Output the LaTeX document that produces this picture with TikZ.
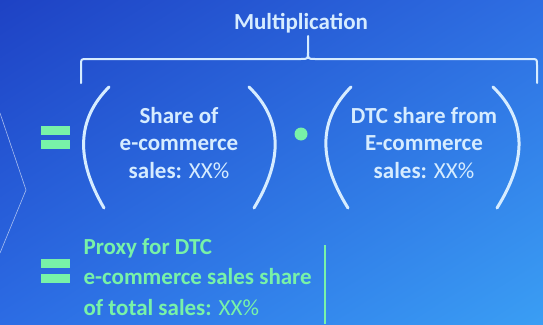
\documentclass[tikz,border=0pt]{standalone}
\usepackage{fontspec}
\setmainfont{Carlito}
\usepackage{xcolor}
\usetikzlibrary{shadings}

\definecolor{bgTL}{RGB}{30,66,196}
\definecolor{bgTR}{RGB}{46,110,226}
\definecolor{bgBL}{RGB}{44,108,228}
\definecolor{bgBR}{RGB}{58,158,244}
\definecolor{mint}{RGB}{120,242,168}
\definecolor{paleblue}{RGB}{214,236,255}

\tikzset{
  paren/.style={draw=paleblue,line width=3pt,line cap=round},
  bracepath/.style={draw=paleblue,line width=2pt,line cap=round,line join=round},
  factor/.style={text=paleblue,align=center,font=\fontsize{23}{27.5}\selectfont\bfseries},
  bar/.style={fill=mint},
}

\begin{document}
\begin{tikzpicture}[x=1pt,y=-1pt]
    \pgfmathsetmacro{\braceLeft}{81}
    \pgfmathsetmacro{\braceRight}{537}
    \pgfmathsetmacro{\braceTip}{308}
    \pgfmathsetmacro{\braceY}{59}
    \pgfmathsetmacro{\parenTop}{87}
    \pgfmathsetmacro{\parenBottom}{208}

    % Hintergrund
    \useasboundingbox (0,0) rectangle (543,324);
    \shade[upper left=bgTL,upper right=bgTR,lower left=bgBL,lower right=bgBR] (0,0) rectangle (543,324);

    % Pfeilspitze links
    \draw[white,opacity=0.6,line width=0.6pt] (0,113) -- (26,190) -- (0,253);

    % Multiplikation
    \node[factor] (mult) at (301,23) {Multiplication};
    \draw[bracepath] (\braceLeft,83) -- (\braceLeft,65) .. controls (\braceLeft,\braceY) .. (\braceLeft+6,\braceY)
      -- (\braceTip-7,\braceY) .. controls (\braceTip,\braceY) .. (\braceTip,\braceY-7) -- (\braceTip,36);
    \draw[bracepath] (\braceTip,\braceY-7) .. controls (\braceTip,\braceY) .. (\braceTip+7,\braceY)
      -- (\braceRight-6,\braceY) .. controls (\braceRight,\braceY) .. (\braceRight,65) -- (\braceRight,83);

    % Gleichheitszeichen oben
    \fill[bar] (41,126) rectangle (70,135);
    \fill[bar] (41,140) rectangle (70,149);

    % Erster Faktor
    \draw[paren] (109,\parenTop) .. controls (76,120) and (76,160) .. (104,\parenBottom);
    \node[factor] (shareEcom) at (179,143) {Share of\\e-commerce\\sales: \mdseries XX\%};
    \draw[paren] (249,\parenTop) .. controls (283,120) and (283,160) .. (254,\parenBottom);

    % Malpunkt
    \fill[mint] (301,134) circle (6.5);

    % Zweiter Faktor
    \draw[paren] (351,\parenTop) .. controls (318,120) and (318,160) .. (348,\parenBottom);
    \node[factor] (dtcShare) at (424,143) {DTC share from\\E-commerce\\sales: \mdseries XX\%};
    \draw[paren] (493,\parenTop) .. controls (527,120) and (527,160) .. (497,\parenBottom);

    % Gleichheitszeichen unten
    \fill[bar] (41,259) rectangle (70,268);
    \fill[bar] (41,274) rectangle (70,283);

    % Ergebnis
    \node[factor,text=mint,align=left,anchor=west,font=\fontsize{23}{30.5}\selectfont\bfseries] (proxy) at (80,277)
      {Proxy for DTC\\e-commerce sales share\\of total sales: \mdseries XX\%};
    \draw[mint,line width=1.5pt] (325,245) -- (325,324);
\end{tikzpicture}
\end{document}
